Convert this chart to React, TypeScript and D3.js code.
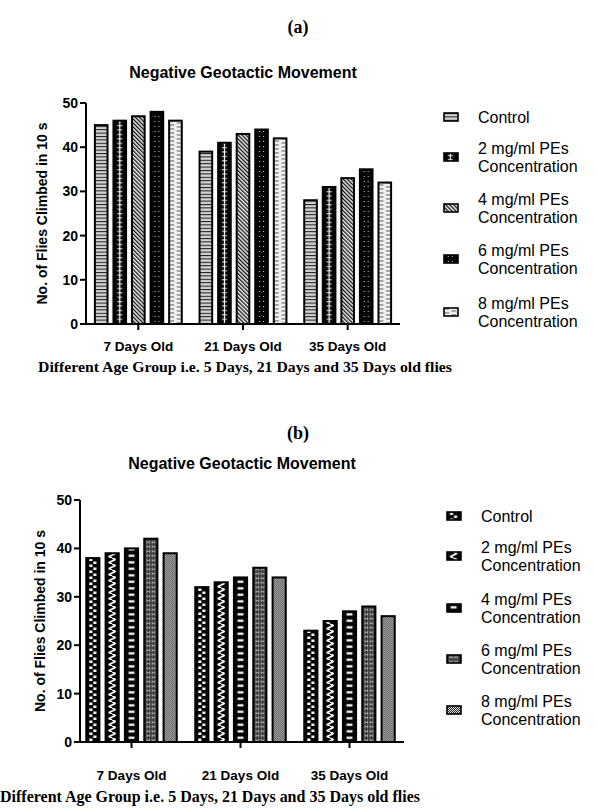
import React from "react";
import * as d3 from "d3";

// Age groups on the x axis
const groups = ["7 Days Old", "21 Days Old", "35 Days Old"];

// Legend entries (each split over its printed lines)
const legendLines = [
  ["Control"],
  ["2 mg/ml PEs", "Concentration"],
  ["4 mg/ml PEs", "Concentration"],
  ["6 mg/ml PEs", "Concentration"],
  ["8 mg/ml PEs", "Concentration"],
];

// Panel (a): flies climbed in 10 s
const controlA = [45, 39, 28];
const pe2A = [46, 41, 31];
const pe4A = [47, 43, 33];
const pe6A = [48, 44, 35];
const pe8A = [46, 42, 32];

// Panel (b): flies climbed in 10 s
const controlB = [38, 32, 23];
const pe2B = [39, 33, 25];
const pe4B = [40, 34, 27];
const pe6B = [42, 36, 28];
const pe8B = [39, 34, 26];

const yTicks = [0, 10, 20, 30, 40, 50];

const SANS = "'Liberation Sans', Arial, sans-serif";
const SERIF = "'Liberation Serif', 'Times New Roman', serif";

type Cfg = {
  id: string;
  letter: string;
  letterY: number;
  titleY: number;
  series: number[][];
  yRange: [number, number];
  xRange: [number, number];
  axisX: number;
  axisEnd: number;
  ylabelX: number;
  catY: number;
  captionY: number;
  captionX: number;
  captionSize: number;
  captionLen: number;
  legendSwatchX: number;
  legendTextX: number;
  legendY: number[][];
};

function patternsA(p: string, w: number) {
  const c = w / 2;
  return (
    <>
      <pattern id={`${p}0`} patternUnits="userSpaceOnUse" width={w} height={3.4}>
        <rect width={w} height={3.4} fill="#d2d2d2" />
        <rect width={w} height={1} fill="#1a1a1a" />
      </pattern>
      <pattern id={`${p}1`} patternUnits="userSpaceOnUse" width={w} height={4.4}>
        <rect width={w} height={4.4} fill="#050505" />
        <rect x={c - 0.6} width={1.2} height={4.4} fill="#fff" />
        <rect x={c - 2.6} y={2} width={5.2} height={0.9} fill="#fff" />
      </pattern>
      <pattern id={`${p}2`} patternUnits="userSpaceOnUse" width={2.8} height={2.8} patternTransform="rotate(-45)">
        <rect width={2.8} height={2.8} fill="#f4f4f4" />
        <rect width={1.3} height={2.8} fill="#111" />
      </pattern>
      <pattern id={`${p}3`} patternUnits="userSpaceOnUse" width={w} height={5}>
        <rect width={w} height={5} fill="#050505" />
        <circle cx={c - 2} cy={1.5} r={0.6} fill="#ddd" />
        <circle cx={c + 2} cy={1.5} r={0.6} fill="#ddd" />
      </pattern>
      <pattern id={`${p}4`} patternUnits="userSpaceOnUse" width={w} height={4}>
        <rect width={w} height={4} fill="#efefef" />
        <rect x={0.5} y={0.4} width={4.5} height={1.1} fill="#6a6a6a" />
        <rect x={w - 5} y={2.4} width={4.5} height={1.1} fill="#6a6a6a" />
      </pattern>
    </>
  );
}

function patternsB(p: string, w: number) {
  const c = w / 2;
  return (
    <>
      <pattern id={`${p}0`} patternUnits="userSpaceOnUse" width={w} height={6}>
        <rect width={w} height={6} fill="#050505" />
        <rect x={c - 3.5} y={0.5} width={3} height={2.5} fill="#fff" />
        <rect x={c + 0.5} y={3.5} width={3} height={2.5} fill="#fff" />
      </pattern>
      <pattern id={`${p}1`} patternUnits="userSpaceOnUse" width={w} height={6}>
        <rect width={w} height={6} fill="#050505" />
        <path
          d={`M${c},0 C${c + 4},1.5 ${c + 4},1.5 ${c},3 C${c - 4},4.5 ${c - 4},4.5 ${c},6`}
          fill="none"
          stroke="#fff"
          strokeWidth={1.8}
        />
      </pattern>
      <pattern id={`${p}2`} patternUnits="userSpaceOnUse" width={w} height={6.5}>
        <rect width={w} height={6.5} fill="#050505" />
        <rect x={c - 3} y={2.2} width={6} height={2.2} fill="#fff" />
      </pattern>
      <pattern id={`${p}3`} patternUnits="userSpaceOnUse" width={w} height={4.5}>
        <rect width={w} height={4.5} fill="#2e2e2e" />
        {[c - 2.5, c + 2.5].map((cx) => (
          <g key={cx} stroke="#c4c4c4" strokeWidth={0.8}>
            <line x1={cx - 1.3} x2={cx - 1.3} y1={0.5} y2={4} />
            <line x1={cx + 1.3} x2={cx + 1.3} y1={0.5} y2={4} />
            <line x1={cx - 1.3} x2={cx + 1.3} y1={2.25} y2={2.25} />
          </g>
        ))}
      </pattern>
      <pattern id={`${p}4`} patternUnits="userSpaceOnUse" width={2} height={2}>
        <rect width={2} height={2} fill="#e6e6e6" />
        <rect width={1} height={1} fill="#222" />
        <rect x={1} y={1} width={1} height={1} fill="#222" />
      </pattern>
    </>
  );
}

function Panel({ cfg }: { cfg: Cfg }) {
  const x0 = d3
    .scaleBand<string>()
    .domain(groups)
    .range(cfg.xRange)
    .paddingInner(0.17)
    .paddingOuter(0.085);
  const x1 = d3
    .scaleBand<number>()
    .domain(d3.range(cfg.series.length))
    .range([0, x0.bandwidth()])
    .paddingInner(0.32);
  const y = d3.scaleLinear().domain([0, 50]).range(cfg.yRange);
  const bw = x1.bandwidth();
  const y0 = y(0);
  const pid = `${cfg.id}p`;
  const chartMid = (cfg.axisX + cfg.axisEnd) / 2;

  return (
    <g>
      <defs>{cfg.id === "a" ? patternsA(pid, bw) : patternsB(pid, bw)}</defs>

      <text x={298} y={cfg.letterY} textAnchor="middle" fontFamily={SERIF} fontWeight="bold" fontSize={18}>
        {cfg.letter}
      </text>
      <text x={chartMid} y={cfg.titleY} textAnchor="middle" fontFamily={SANS} fontWeight="bold" fontSize={16}>
        Negative Geotactic Movement
      </text>

      {/* bars */}
      {groups.map((g, gi) =>
        cfg.series.map((vals, si) => {
          const v = vals[gi];
          return (
            <g key={`${g}-${si}`} transform={`translate(${(x0(g) ?? 0) + (x1(si) ?? 0)},0)`}>
              <rect
                x={0}
                y={y(v)}
                width={bw}
                height={y0 - y(v)}
                fill={`url(#${pid}${si})`}
                stroke="#000"
                strokeWidth={2}
              />
            </g>
          );
        })
      )}

      {/* y axis */}
      <line x1={cfg.axisX} x2={cfg.axisX} y1={y(50)} y2={y0 + 1} stroke="#000" strokeWidth={2} />
      {yTicks.map((t) => (
        <g key={t}>
          <line x1={cfg.axisX - 6} x2={cfg.axisX} y1={y(t)} y2={y(t)} stroke="#000" strokeWidth={2} />
          <text
            x={cfg.axisX - 8}
            y={y(t)}
            dy="0.36em"
            textAnchor="end"
            fontFamily={SANS}
            fontWeight="bold"
            fontSize={14}
          >
            {t}
          </text>
        </g>
      ))}
      <text
        transform={`translate(${cfg.ylabelX},${(y(0) + y(50)) / 2}) rotate(-90)`}
        textAnchor="middle"
        fontFamily={SANS}
        fontWeight="bold"
        fontSize={14}
      >
        No. of Flies Climbed in 10 s
      </text>

      {/* x axis */}
      <line x1={cfg.axisX - 1} x2={cfg.axisEnd} y1={y0} y2={y0} stroke="#000" strokeWidth={2} />
      {groups.map((g) => {
        const cx = (x0(g) ?? 0) + x0.bandwidth() / 2;
        return (
          <g key={g}>
            <line x1={cx} x2={cx} y1={y0} y2={y0 + 6} stroke="#000" strokeWidth={2} />
            <text x={cx} y={cfg.catY} textAnchor="middle" fontFamily={SANS} fontWeight="bold" fontSize={13.5}>
              {g}
            </text>
          </g>
        );
      })}
      <text
        x={cfg.captionX}
        y={cfg.captionY}
        fontFamily={SERIF}
        fontWeight="bold"
        fontSize={cfg.captionSize}
        textLength={cfg.captionLen}
        lengthAdjust="spacingAndGlyphs"
      >
        Different Age Group i.e. 5 Days, 21 Days and 35 Days old flies
      </text>

      {/* legend */}
      {legendLines.map((lines, i) => {
        const ys = cfg.legendY[i];
        const mid = (ys[0] + ys[ys.length - 1]) / 2;
        return (
          <g key={i}>
            <g transform={`translate(${cfg.legendSwatchX},${mid - 4})`}>
              <rect width={14} height={8} fill={`url(#${pid}${i})`} stroke="#000" strokeWidth={1.6} />
            </g>
            {lines.map((ln, li) => (
              <text
                key={li}
                x={cfg.legendTextX}
                y={ys[li]}
                dy="0.36em"
                fontFamily={SANS}
                fontSize={16}
              >
                {ln}
              </text>
            ))}
          </g>
        );
      })}
    </g>
  );
}

const cfgA: Cfg = {
  id: "a",
  letter: "(a)",
  letterY: 33,
  titleY: 78,
  series: [controlA, pe2A, pe4A, pe6A, pe8A],
  yRange: [324, 103],
  xRange: [86, 400],
  axisX: 86,
  axisEnd: 400,
  ylabelX: 47,
  catY: 351,
  captionY: 372,
  captionX: 38,
  captionSize: 15.5,
  captionLen: 414,
  legendSwatchX: 444,
  legendTextX: 478,
  legendY: [[117], [148, 166], [199, 217], [250, 268], [303, 321]],
};

const cfgB: Cfg = {
  id: "b",
  letter: "(b)",
  letterY: 439,
  titleY: 469,
  series: [controlB, pe2B, pe4B, pe6B, pe8B],
  yRange: [742, 500],
  xRange: [77, 404],
  axisX: 80,
  axisEnd: 404,
  ylabelX: 45,
  catY: 780,
  captionY: 802,
  captionX: 0,
  captionSize: 16,
  captionLen: 420,
  legendSwatchX: 447,
  legendTextX: 481,
  legendY: [[516], [547, 565], [599, 617], [650, 668], [701, 719]],
};

export default function App() {
  return (
    <svg
      width={596}
      height={808}
      viewBox="0 0 596 808"
      style={{ display: "block", position: "absolute", left: 0, top: 0, background: "#fff" }}
    >
      <rect width={596} height={808} fill="#fff" />
      <Panel cfg={cfgA} />
      <Panel cfg={cfgB} />
    </svg>
  );
}
